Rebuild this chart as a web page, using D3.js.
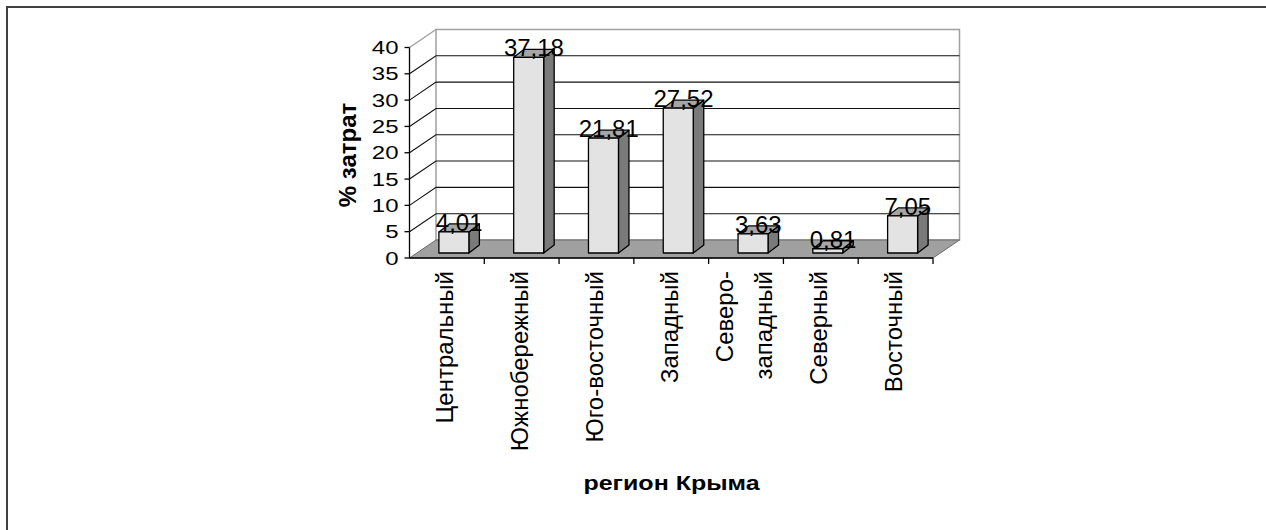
<!DOCTYPE html>
<html>
<head>
<meta charset="utf-8">
<script src="https://cdn.jsdelivr.net/npm/d3@7"></script>
<style>
  body { margin: 0; background: #fff; }
  text { font-family: "Liberation Sans", Arial, sans-serif; fill: #000; }
</style>
</head>
<body>
<script>
// data
const categories = ["Центральный", "Южнобережный", "Юго-восточный", "Западный", "Северо-\nзападный", "Северный", "Восточный"];
const values = [4.01, 37.18, 21.81, 27.52, 3.63, 0.81, 7.05];
const valueLabels = ["4,01", "37,18", "21,81", "27,52", "3,63", "0,81", "7,05"];
const yTicks = [0, 5, 10, 15, 20, 25, 30, 35, 40];
const yTitle = "% затрат";
const xTitle = "регион Крыма";

const width = 1266, height = 530;
const svg = d3.select("body").append("svg")
    .attr("width", width)
    .attr("height", height);

// outer frame (runs off the right and bottom)
svg.append("rect")
    .attr("x", 7).attr("y", 7)
    .attr("width", width).attr("height", height)
    .attr("fill", "none")
    .attr("stroke", "#404040")
    .attr("stroke-width", 2);

// 3d plot box
let x0 = 409.5, x1 = 933,
    dx = 26.5, dy = -18;      // depth offset of back wall

let x = d3.scaleBand().domain(categories).range([x0, x1]);
let y = d3.scaleLinear().domain([0, 40]).range([258, 47.5]);

let sq = 0.78; // tick labels look squashed vertically in the original

let walls = svg.append("g");
// back wall frame
walls.append("rect")
    .attr("x", x0 + dx).attr("y", y(40) + dy)
    .attr("width", x1 - x0).attr("height", y(0) - y(40))
    .attr("fill", "#fff")
    .attr("stroke", "#a0a0a0")
    .attr("stroke-width", 1.5);
walls.append("line")
    .attr("x1", x0).attr("y1", y(40))
    .attr("x2", x0 + dx).attr("y2", y(40) + dy)
    .attr("stroke", "#a0a0a0").attr("stroke-width", 1.5);

// gridlines on side wall and back wall
walls.selectAll(".grid")
    .data(yTicks.filter(d => d > 0 && d < 40))
    .join("polyline")
    .attr("class", "grid")
    .attr("fill", "none")
    .attr("stroke", "#111")
    .attr("stroke-width", 1.1)
    .attr("points", d => [[x0, y(d)], [x0 + dx, y(d) + dy], [x1 + dx, y(d) + dy]].join(" "));

// floor
svg.append("polygon")
    .attr("points", [[x0, y(0)], [x1, y(0)], [x1 + dx, y(0) + dy], [x0 + dx, y(0) + dy]].join(" "))
    .attr("fill", "#a0a0a0")
    .attr("stroke", "#6a6a6a")
    .attr("stroke-width", 1);

// axes
let axis = svg.append("g").attr("stroke", "#000").attr("stroke-width", 1.3);
axis.append("line").attr("x1", x0).attr("y1", y(40)).attr("x2", x0).attr("y2", y(0));
axis.append("line").attr("x1", x0).attr("y1", y(0)).attr("x2", x1).attr("y2", y(0));
axis.selectAll(".yt").data(yTicks).join("line")
    .attr("x1", x0 - 5).attr("x2", x0)
    .attr("y1", d => y(d)).attr("y2", d => y(d));
axis.selectAll(".xt").data(categories).join("line")
    .attr("x1", d => x(d) + x.bandwidth()).attr("x2", d => x(d) + x.bandwidth())
    .attr("y1", y(0)).attr("y2", y(0) + 6);

svg.selectAll(".ylab").data(yTicks).join("text")
    .attr("transform", d => `translate(398.5,${y(d)}) scale(1,${sq})`)
    .attr("text-anchor", "end")
    .attr("dy", "0.35em")
    .style("font-size", "24px")
    .text(d => d);

// bars
let bw = 30, fx = 7, fy = -5,   // front face width and offset into the floor
    bdx = 10.5, bdy = -8;        // bar depth

let bars = svg.selectAll(".bar")
    .data(categories.map((c, i) => ({c: c, v: values[i], label: valueLabels[i]})))
    .join("g")
    .attr("class", "bar")
    .attr("stroke", "#000")
    .attr("stroke-width", 1.3)
    .attr("stroke-linejoin", "round");

let barLeft = d => x(d.c) + (x.bandwidth() - bw) / 2 + fx;
let barTop = d => y(d.v) + fy;
let barBottom = y(0) + fy;

bars.append("polygon")   // side
    .attr("fill", "#7a7a7a")
    .attr("points", d => [[barLeft(d) + bw, barTop(d)], [barLeft(d) + bw + bdx, barTop(d) + bdy],
        [barLeft(d) + bw + bdx, barBottom + bdy], [barLeft(d) + bw, barBottom]].join(" "));
bars.append("polygon")   // top
    .attr("fill", "#a6a6a6")
    .attr("points", d => [[barLeft(d), barTop(d)], [barLeft(d) + bdx, barTop(d) + bdy],
        [barLeft(d) + bw + bdx, barTop(d) + bdy], [barLeft(d) + bw, barTop(d)]].join(" "));
bars.append("rect")      // front
    .attr("fill", "#e3e3e3")
    .attr("x", barLeft).attr("y", barTop)
    .attr("width", bw).attr("height", d => barBottom - barTop(d));

bars.append("text")
    .attr("stroke", "none")
    .attr("text-anchor", "middle")
    .attr("transform", d => `translate(${barLeft(d) + bw / 2 + bdx / 2},${barTop(d) - 1}) scale(1,0.97)`)
    .style("font-size", "24px")
    .text(d => d.label);

// category labels, rotated
let xl = svg.selectAll(".xlab").data(categories).join("g")
    .attr("transform", d => `translate(${x(d) + x.bandwidth() / 2 - 2},271) rotate(-90)`);
xl.selectAll("text")
    .data(d => d.split("\n").map((s, i, a) => ({s: s, off: (i - (a.length - 1) / 2) * 39})))
    .join("text")
    .attr("text-anchor", "end")
    .attr("y", d => d.off)
    .attr("dy", "0.35em")
    .style("font-size", "24px")
    .text(d => d.s);

// axis titles
svg.append("text")
    .attr("transform", "translate(347.5,155) rotate(-90)")
    .attr("text-anchor", "middle")
    .attr("dy", "0.35em")
    .style("font-size", "24px")
    .style("font-weight", "bold")
    .text(yTitle);

svg.append("text")
    .attr("transform", `translate(671.5,489.5) scale(1,0.8)`)
    .attr("text-anchor", "middle")
    .style("font-size", "25px")
    .style("font-weight", "bold")
    .text(xTitle);
</script>
</body>
</html>
